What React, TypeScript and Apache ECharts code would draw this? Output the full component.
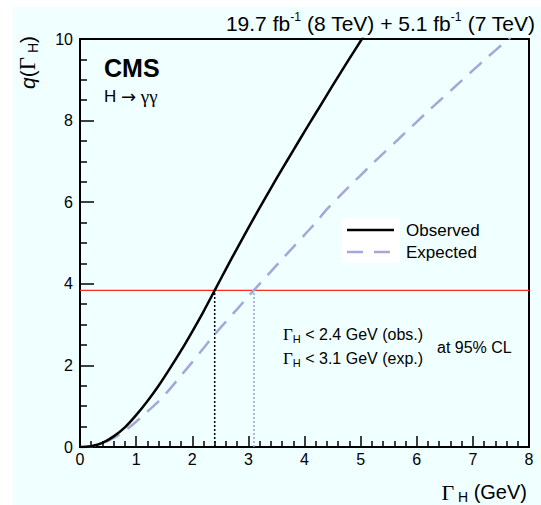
import React, { useEffect, useRef } from "react";
import * as echarts from "echarts";

// Γ_H (GeV) grid
const obsWidth = [0, 0.2, 0.4, 0.6, 0.8, 1.0, 1.2, 1.4, 1.6, 1.8, 2.0, 2.2, 2.4, 2.6, 2.8, 3.0, 3.2, 3.4, 3.6, 3.8, 4.0, 4.2, 4.4, 4.6, 4.8, 5.0, 5.2];
const obsQ = [0, 0.02, 0.1, 0.26, 0.48, 0.78, 1.12, 1.5, 1.92, 2.36, 2.83, 3.32, 3.84, 4.36, 4.87, 5.37, 5.86, 6.34, 6.81, 7.27, 7.73, 8.18, 8.63, 9.08, 9.52, 9.95, 10.38];

const expWidth = [0, 0.2, 0.4, 0.6, 0.8, 1.0, 1.2, 1.4, 1.6, 1.8, 2.0, 2.2, 2.4, 2.6, 2.8, 3.0, 3.2, 3.4, 3.6, 3.8, 4.0, 4.2, 4.4, 4.6, 4.8, 5.0, 5.2, 5.4, 5.6, 5.8, 6.0, 6.2, 6.4, 6.6, 6.8, 7.0, 7.2, 7.4, 7.6, 7.8];
const expQ = [0, 0.02, 0.09, 0.22, 0.4, 0.62, 0.87, 1.12, 1.42, 1.75, 2.08, 2.42, 2.76, 3.07, 3.38, 3.69, 4.0, 4.3, 4.6, 4.9, 5.2, 5.5, 5.83, 6.11, 6.39, 6.66, 6.93, 7.19, 7.45, 7.71, 7.97, 8.23, 8.48, 8.73, 8.98, 9.23, 9.48, 9.72, 9.96, 10.2];

const threshold = 3.84; // 95% CL
const obsLimit = 2.4;
const expLimit = 3.1;

const xTicks = [0, 8, 1]; // min, max, interval
const yTicks = [0, 10, 2];

const seriesNames = ["Observed", "Expected"];

const SANS = "'Liberation Sans', Arial, Helvetica, sans-serif";
const SERIF = "'Liberation Serif', 'Times New Roman', serif";

export default function App() {
  const ref = useRef<HTMLDivElement>(null);
  useEffect(() => {
    if (!ref.current) return;
    const chart = echarts.init(ref.current, undefined, { renderer: "svg" });
    const obsData = obsWidth.map((x, i) => [x, obsQ[i]]);
    const expData = expWidth.map((x, i) => [x, expQ[i]]);
    const axisCommon = {
      type: "value" as const,
      axisLine: { show: true, onZero: false, lineStyle: { color: "#000", width: 2 } },
      splitLine: { show: false },
      axisLabel: { color: "#000", fontSize: 16, fontFamily: SANS, showMinLabel: true, showMaxLabel: true },
    };
    const subRich = (g: number, s: number) => ({
      g: { fontSize: g, fontFamily: SERIF, fill: "#000" },
      sub: { fontSize: s, fontFamily: SANS, verticalAlign: "bottom", lineHeight: s + 2, fill: "#000" },
    });
    chart.setOption({
      animation: false,
      backgroundColor: "#ffffff",
      grid: { left: 80, right: 12, top: 39, bottom: 58, show: true, borderColor: "#000", borderWidth: 2, backgroundColor: "transparent" },
      xAxis: {
        ...axisCommon,
        min: xTicks[0], max: xTicks[1], interval: xTicks[2],
        axisTick: { show: true, inside: true, length: 11, lineStyle: { color: "#000", width: 1.5 } },
        minorTick: { show: true, splitNumber: 5, length: 6, lineStyle: { color: "#000", width: 1.5 } },
        axisLabel: { ...axisCommon.axisLabel, margin: 4 },
      },
      yAxis: {
        ...axisCommon,
        min: yTicks[0], max: yTicks[1], interval: yTicks[2],
        axisTick: { show: true, inside: true, length: 14, lineStyle: { color: "#000", width: 1.5 } },
        minorTick: { show: true, splitNumber: 4, length: 7, lineStyle: { color: "#000", width: 1.5 } },
        axisLabel: { ...axisCommon.axisLabel, margin: 7 },
      },
      legend: {
        data: [
          { name: seriesNames[0], icon: "path://M0,0h47v2.5h-47z" },
          { name: seriesNames[1], icon: "path://M0,0h16v2.5h-16z M27,0h16v2.5h-16z M47,0h0v2.5h0z" },
        ],
        orient: "vertical",
        left: 347,
        top: 221.5,
        padding: 0,
        itemWidth: 47,
        itemHeight: 2.5,
        itemGap: 5,
        selectedMode: false,
        textStyle: { color: "#000", fontSize: 17, fontFamily: SANS, padding: [0, 0, 0, 7] },
      },
      graphic: [
        { type: "rect", z: -100, shape: { x: 13, y: 7, width: 528, height: 498 }, style: { fill: "#f0ffff" }, silent: true },
        { type: "rect", z: 1, shape: { x: 342, y: 218, width: 58, height: 45 }, style: { fill: "#ffffff" }, silent: true },
        {
          type: "text", x: 535, y: 23,
          style: {
            text: "19.7 fb{sup|-1} (8 TeV) + 5.1 fb{sup|-1} (7 TeV)",
            align: "right", verticalAlign: "middle", fill: "#000", fontSize: 21, fontFamily: SANS, lineHeight: 25,
            rich: { sup: { fontSize: 12, fontFamily: SANS, verticalAlign: "top", lineHeight: 13, fill: "#000" } },
          },
        },
        {
          type: "text", x: 27, y: 36, rotation: Math.PI / 2,
          style: {
            text: "{it|q}({g|Γ}{sub| H})",
            align: "right", verticalAlign: "middle", fill: "#000", fontSize: 21, fontFamily: SANS, lineHeight: 26,
            rich: {
              it: { fontStyle: "italic", fontSize: 21, fontFamily: SANS, fill: "#000" },
              ...subRich(23, 14),
            },
          },
        },
        {
          type: "text", x: 527, y: 492,
          style: {
            text: "{g|Γ}{sub| H} (GeV)",
            align: "right", verticalAlign: "middle", fill: "#000", fontSize: 20, fontFamily: SANS, lineHeight: 24,
            rich: subRich(22, 14),
          },
        },
        { type: "text", x: 104, y: 68, style: { text: "CMS", fill: "#000", fontSize: 25, fontWeight: "bold", fontFamily: SANS, verticalAlign: "middle" } },
        {
          type: "text", x: 104, y: 96,
          style: {
            text: "H {a|→} {g|γγ}", fill: "#000", fontSize: 17, fontFamily: SANS, verticalAlign: "middle",
            rich: { a: { fontSize: 18, fontFamily: "'DejaVu Sans', sans-serif", fill: "#000" }, g: { fontSize: 19, fontFamily: SERIF, fill: "#000" } },
          },
        },
        {
          type: "text", x: 283, y: 334,
          style: {
            text: "{g|Γ}{sub|H} < 2.4 GeV (obs.)", fill: "#000", fontSize: 16, fontFamily: SANS, verticalAlign: "middle", lineHeight: 20,
            rich: subRich(17, 11),
          },
        },
        {
          type: "text", x: 283, y: 358,
          style: {
            text: "{g|Γ}{sub|H} < 3.1 GeV (exp.)", fill: "#000", fontSize: 16, fontFamily: SANS, verticalAlign: "middle", lineHeight: 20,
            rich: subRich(17, 11),
          },
        },
        { type: "text", x: 437, y: 347, style: { text: "at 95% CL", fill: "#000", fontSize: 16, fontFamily: SANS, verticalAlign: "middle" } },
      ],
      series: [
        {
          type: "line", name: "threshold", data: [[xTicks[0], threshold], [xTicks[1], threshold]],
          symbol: "none", lineStyle: { color: "#ff2a1a", width: 1.2 }, z: 2,
        },
        {
          type: "line", name: "obsLimit", data: [[obsLimit, 0], [obsLimit, threshold]],
          symbol: "none", lineStyle: { color: "#000", width: 1.5, type: [2, 2] }, z: 2,
        },
        {
          type: "line", name: "expLimit", data: [[expLimit, 0], [expLimit, threshold]],
          symbol: "none", lineStyle: { color: "#9aa0d8", width: 1.5, type: [2, 2] }, z: 2,
        },
        {
          type: "line", name: "Expected", data: expData, symbol: "none", smooth: 0.3, clip: true,
          lineStyle: { color: "#a3a8d8", width: 2.5, type: [16, 10] }, itemStyle: { color: "#a3a8d8" }, z: 3,
        },
        {
          type: "line", name: "Observed", data: obsData, symbol: "none", smooth: 0.3, clip: true,
          lineStyle: { color: "#000", width: 2.5 }, itemStyle: { color: "#000" }, z: 4,
        },
      ],
    });
    return () => chart.dispose();
  }, []);
  return (
    <div style={{ position: "absolute", left: 0, top: 0, width: 541, height: 505 }}>
      <div ref={ref} style={{ width: 541, height: 505 }} />
    </div>
  );
}
